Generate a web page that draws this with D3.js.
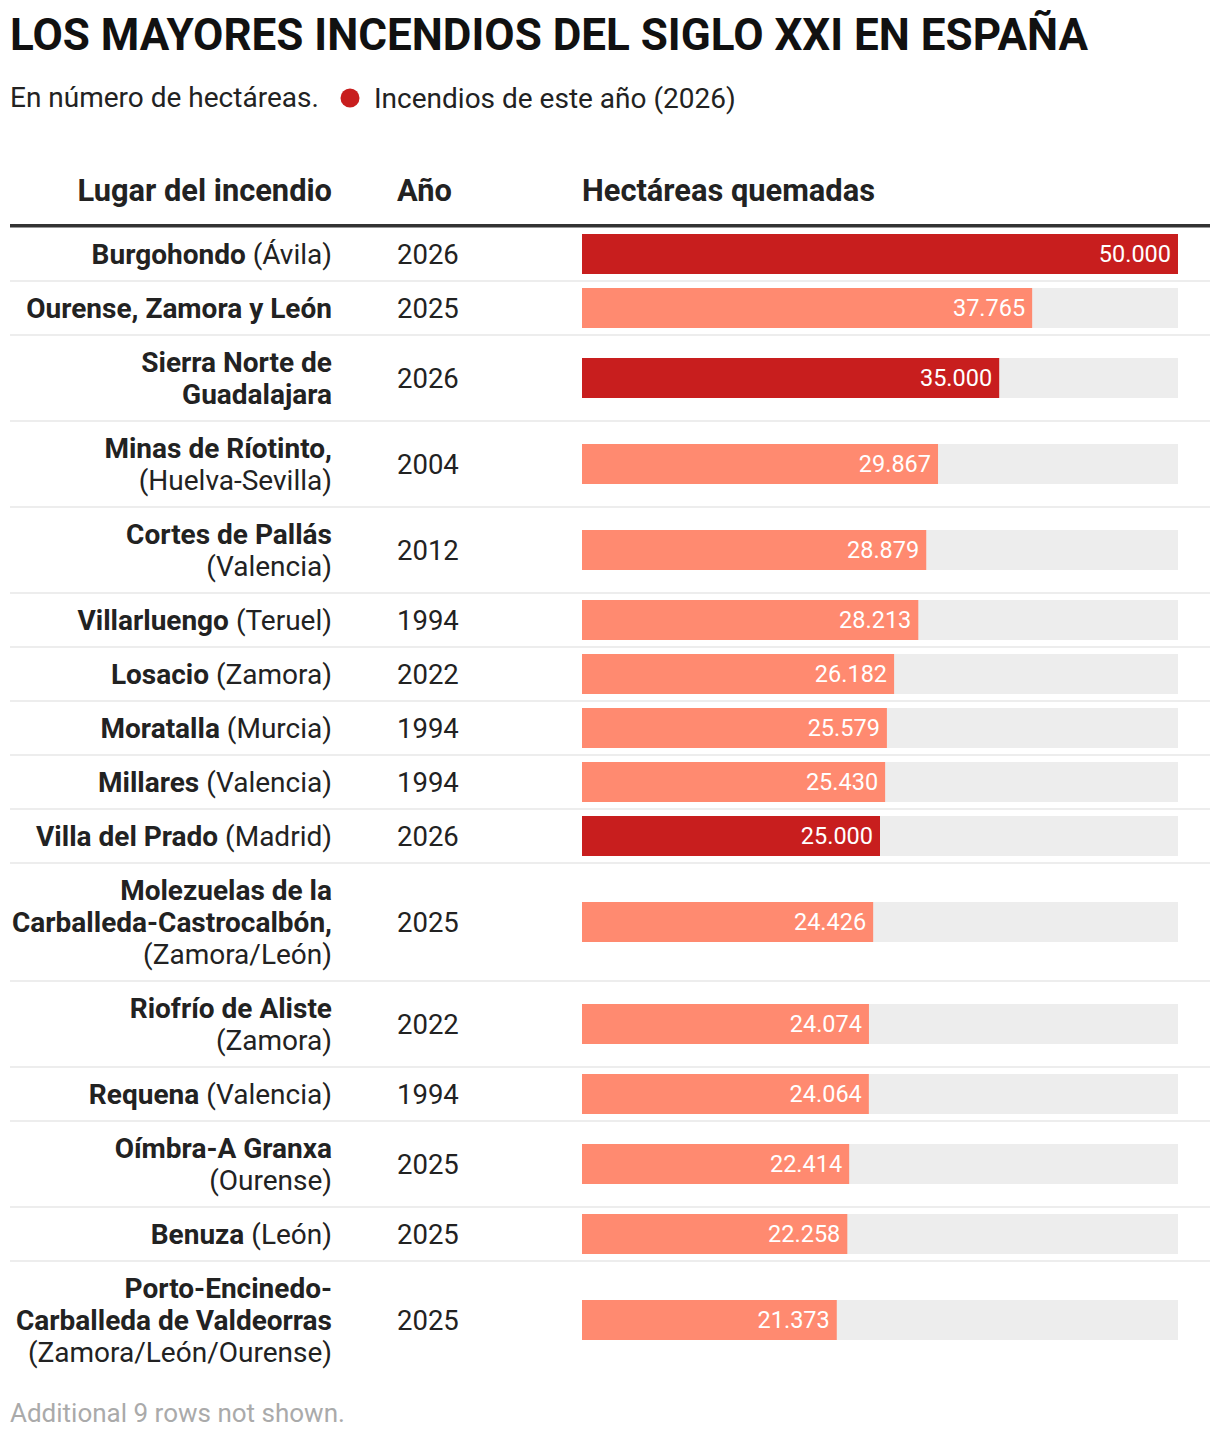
<!DOCTYPE html>
<html><head><meta charset="utf-8">
<script src="https://cdn.jsdelivr.net/npm/d3@7"></script>
<style>body{margin:0;background:#fff;} svg{display:block;font-family:Roboto,sans-serif;}</style>
</head><body>
<script>
const lugares = [
  "*Burgohondo* (Ávila)",
  "*Ourense, Zamora y León*",
  "*Sierra Norte de*|*Guadalajara*",
  "*Minas de Ríotinto,*|(Huelva-Sevilla)",
  "*Cortes de Pallás*|(Valencia)",
  "*Villarluengo* (Teruel)",
  "*Losacio* (Zamora)",
  "*Moratalla* (Murcia)",
  "*Millares* (Valencia)",
  "*Villa del Prado* (Madrid)",
  "*Molezuelas de la*|*Carballeda-Castrocalbón,*|(Zamora/León)",
  "*Riofrío de Aliste*|(Zamora)",
  "*Requena* (Valencia)",
  "*Oímbra-A Granxa*|(Ourense)",
  "*Benuza* (León)",
  "*Porto-Encinedo-*|*Carballeda de Valdeorras*|(Zamora/León/Ourense)"
];
const anios = [2026, 2025, 2026, 2004, 2012, 1994, 2022, 1994, 1994, 2026, 2025, 2022, 1994, 2025, 2025, 2025];
const hectareas = [50000, 37765, 35000, 29867, 28879, 28213, 26182, 25579, 25430, 25000, 24426, 24074, 24064, 22414, 22258, 21373];
const esteAnio = 2026;
const titulo = "LOS MAYORES INCENDIOS DEL SIGLO XXI EN ESPAÑA";
const subtitulo = "En número de hectáreas.";
const leyenda = "Incendios de este año (2026)";
const cabeceras = ["Lugar del incendio", "Año", "Hectáreas quemadas"];
const nota = "Additional 9 rows not shown.";

const W = 1220, H = 1438;
const RED = "#c81e1e", SALMON = "#ff8a70", GREY = "#ededed", TXT = "#222";
const svg = d3.select("body").append("svg").attr("width", W).attr("height", H);

svg.append("text").attr("x", 10).attr("y", 50).attr("font-size", 44).attr("font-weight", 700)
  .attr("fill", "#111").text(titulo);
svg.append("text").attr("x", 10).attr("y", 107).attr("font-size", 28).attr("fill", TXT).text(subtitulo);
svg.append("circle").attr("cx", 350).attr("cy", 98).attr("r", 9.5).attr("fill", RED);
svg.append("text").attr("x", 374).attr("y", 108).attr("font-size", 28).attr("fill", TXT).text(leyenda);

const colLugar = 332, colAnio = 397, barX0 = 582, barX1 = 1178;
const hdrY = 201;
svg.append("text").attr("x", colLugar).attr("y", hdrY).attr("text-anchor", "end").attr("font-size", 30.8).attr("font-weight", 700).attr("fill", TXT).text(cabeceras[0]);
svg.append("text").attr("x", colAnio).attr("y", hdrY).attr("font-size", 30.8).attr("font-weight", 700).attr("fill", TXT).text(cabeceras[1]);
svg.append("text").attr("x", barX0).attr("y", hdrY).attr("font-size", 30.8).attr("font-weight", 700).attr("fill", TXT).text(cabeceras[2]);
svg.append("rect").attr("x", 10).attr("y", 224).attr("width", 1200).attr("height", 3.5).attr("fill", "#333");

const x = d3.scaleLinear().domain([0, 50000]).range([barX0, barX1]);
const fmt = d3.formatLocale({decimal: ",", thousands: ".", grouping: [3], currency: ["", "€"]}).format(",d");

const LH = 32, PAD = 22;
let y = 227;
const rows = lugares.map((l, i) => {
  const lines = l.split("|");
  const h = lines.length * LH + PAD;
  const r = {lines, y0: y, h, anio: anios[i], val: hectareas[i]};
  y += h;
  return r;
});

const g = svg.append("g");
rows.forEach((r, i) => {
  const cy = r.y0 + r.h / 2;
  if (i < rows.length - 1)
    g.append("rect").attr("x", 10).attr("y", r.y0 + r.h - 1).attr("width", 1200).attr("height", 2).attr("fill", GREY);
  const n = r.lines.length;
  r.lines.forEach((ln, j) => {
    const ty = cy + (j - (n - 1) / 2) * LH;
    const t = g.append("text").attr("x", colLugar).attr("y", ty).attr("dy", "0.35em")
      .attr("text-anchor", "end").attr("font-size", 28).attr("fill", TXT);
    const parts = ln.split("*");
    parts.forEach((p, k) => {
      if (!p) return;
      t.append("tspan").attr("font-weight", k % 2 === 1 ? 700 : 400).text(p);
    });
  });
  g.append("text").attr("x", colAnio).attr("y", cy).attr("dy", "0.35em").attr("font-size", 27.5).attr("fill", TXT).text(r.anio);
  g.append("rect").attr("x", barX0).attr("y", cy - 20).attr("width", x(50000) - barX0).attr("height", 40).attr("fill", GREY);
  g.append("rect").attr("x", barX0).attr("y", cy - 20).attr("width", x(r.val) - barX0).attr("height", 40)
    .attr("fill", r.anio === esteAnio ? RED : SALMON);
  g.append("text").attr("x", x(r.val) - 7).attr("y", cy).attr("dy", "0.35em").attr("text-anchor", "end")
    .attr("font-size", 23.5).attr("fill", "#fff").text(fmt(r.val));
});

svg.append("text").attr("x", 10).attr("y", 1422).attr("font-size", 26).attr("fill", "#aaa").text(nota);
</script>
</body></html>
